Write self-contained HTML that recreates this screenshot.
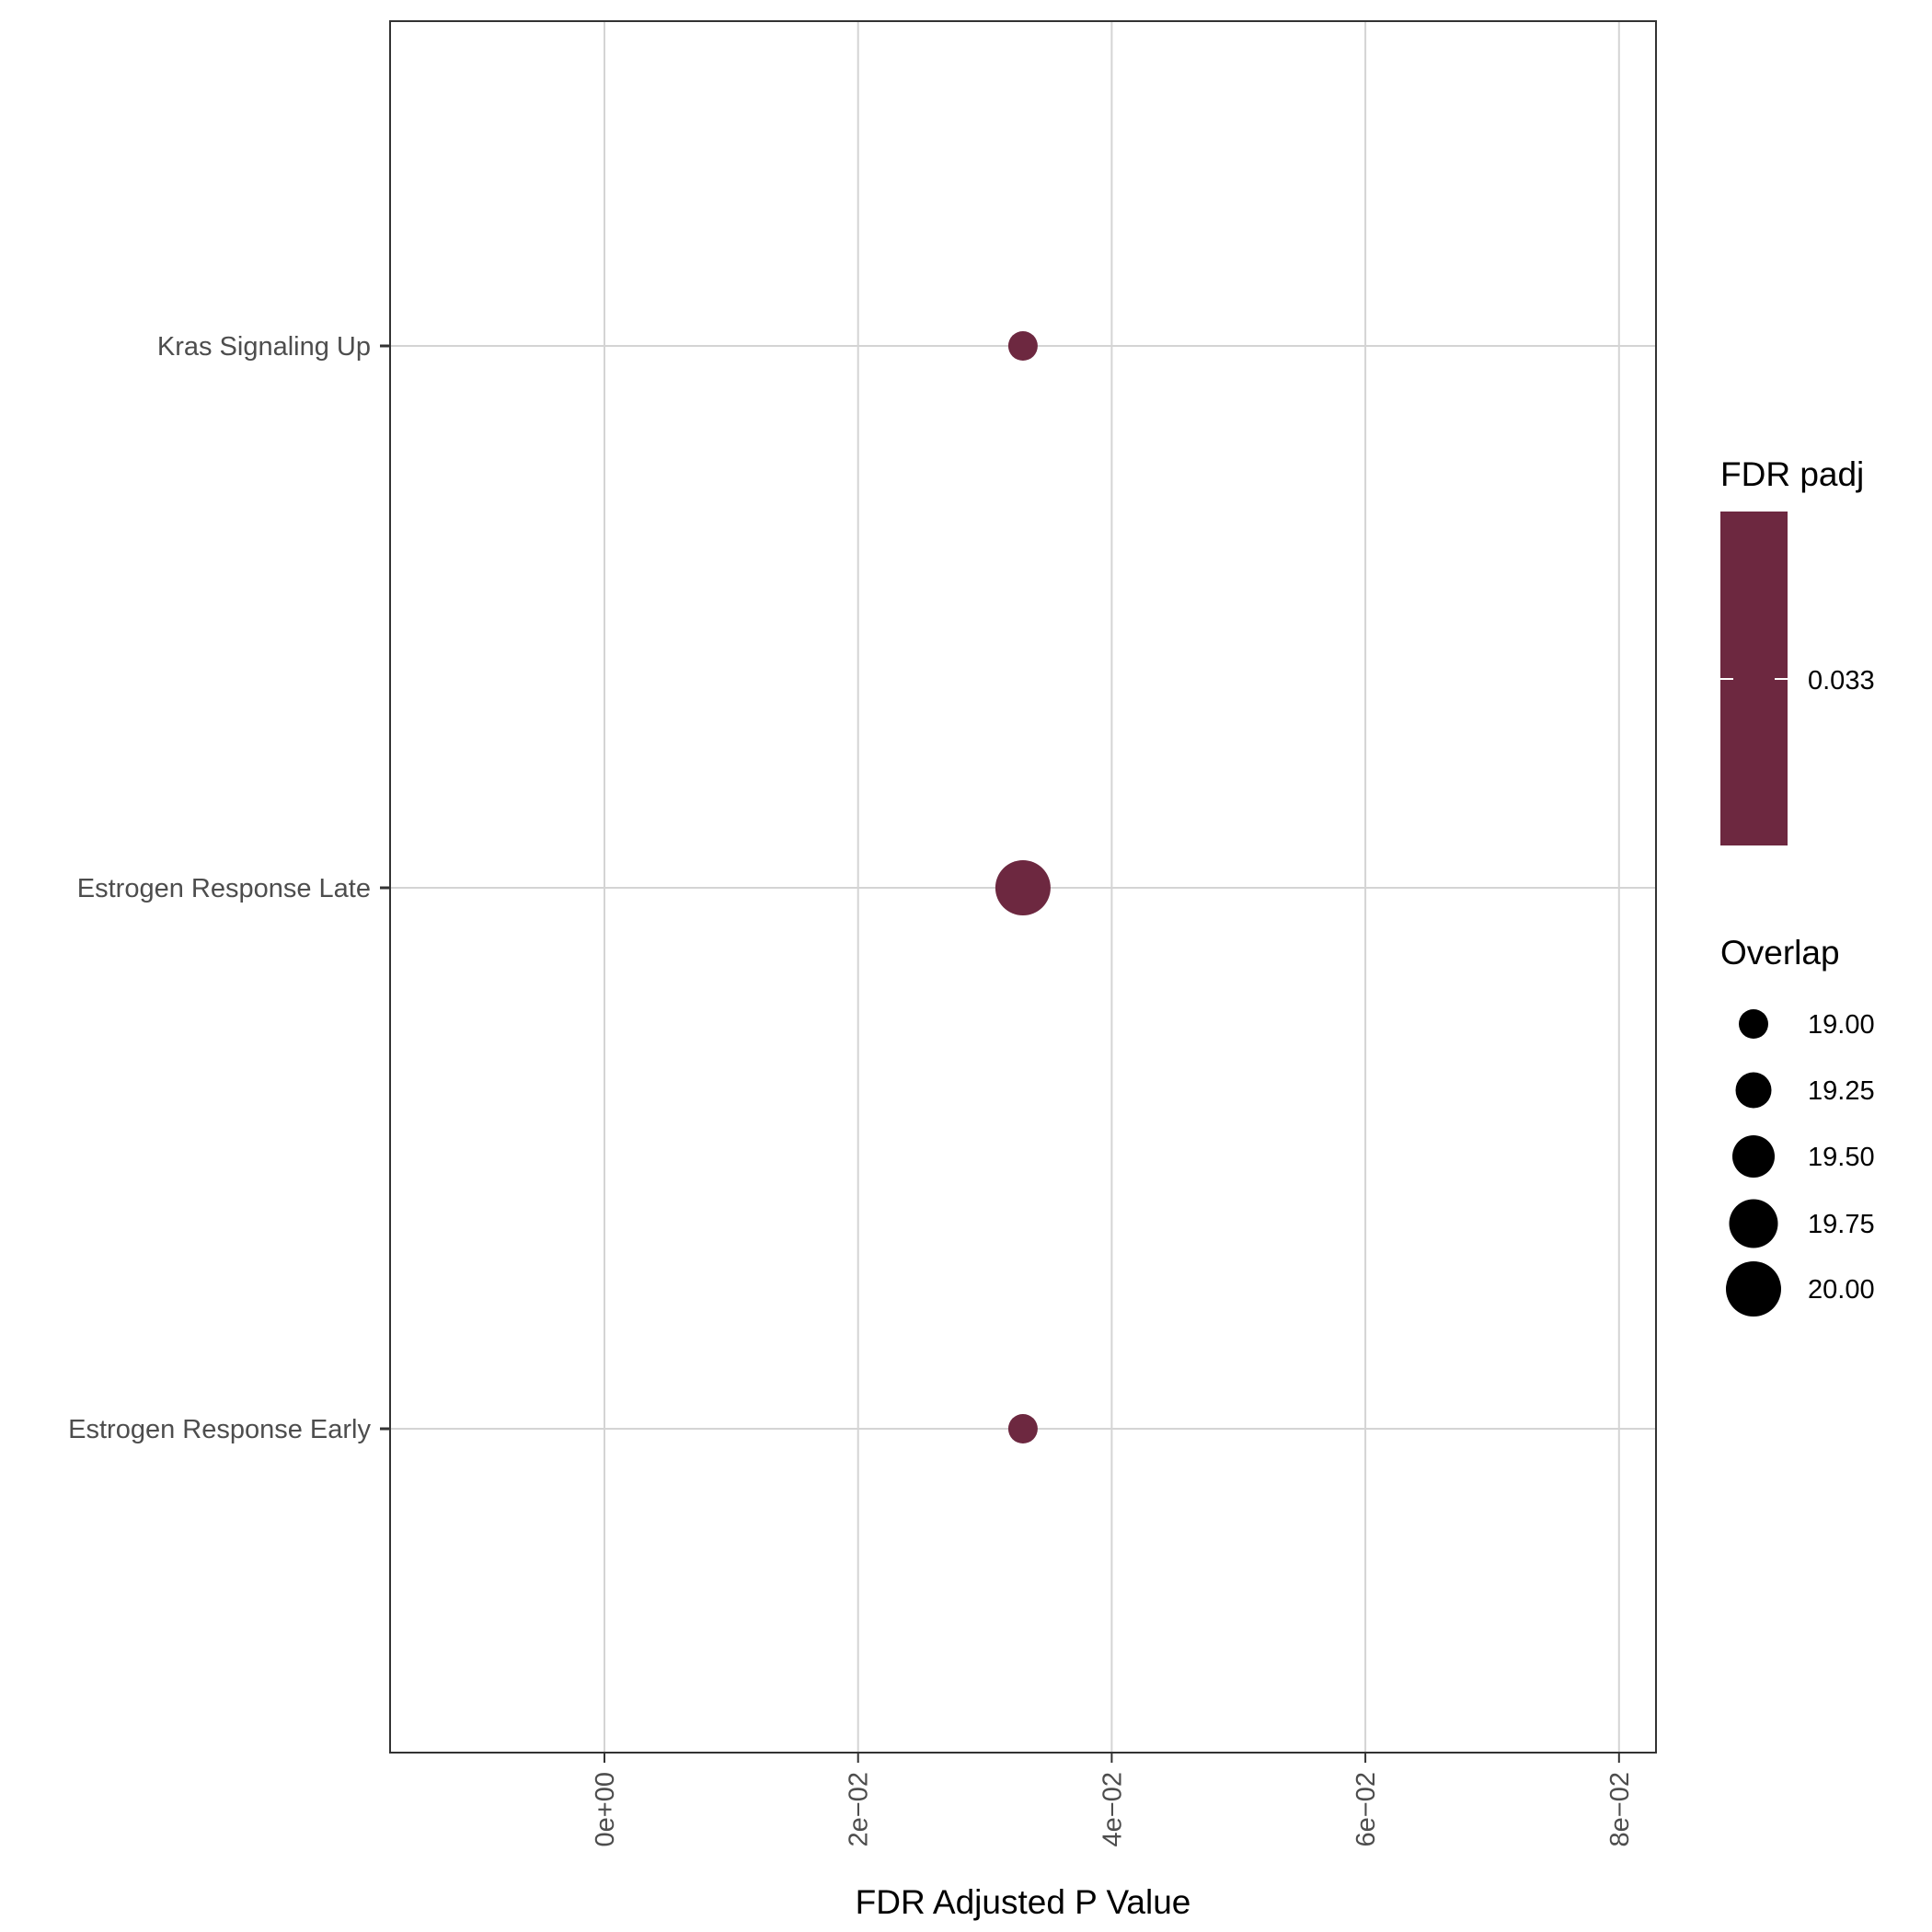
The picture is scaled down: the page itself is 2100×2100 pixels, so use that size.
<!DOCTYPE html>
<html><head><meta charset="utf-8"><style>
html,body{margin:0;padding:0;background:#fff}
svg{display:block;font-family:"Liberation Sans",sans-serif}
</style></head><body>
<svg id="chart" width="2100" height="2100" viewBox="0 0 2100 2100">
<g id="grid"></g>
<g id="points"></g>
<rect x="424" y="23" width="1376" height="1882" fill="none" stroke="#333" stroke-width="2"/>
<g id="xaxis"></g>
<g id="yaxis"></g>
<text x="1112" y="2080" font-size="37" text-anchor="middle" fill="#000">FDR Adjusted P Value</text>
<g>
<text x="1870" y="528" font-size="37" fill="#000">FDR padj</text>
<rect x="1870" y="556" width="73" height="363" fill="#6D2840"/>
<line x1="1870" y1="738" x2="1884" y2="738" stroke="#fff" stroke-width="2"/>
<line x1="1929" y1="738" x2="1943" y2="738" stroke="#fff" stroke-width="2"/>
<text x="1965" y="749" font-size="29" fill="#000">0.033</text>
</g>
<g id="sizelegend">
<text x="1870" y="1048" font-size="37" fill="#000">Overlap</text>
</g>
</svg>
<script>
const categories = ["Kras Signaling Up", "Estrogen Response Late", "Estrogen Response Early"];
const padjValues = [0.033, 0.033, 0.033];
const overlapValues = [19, 20, 19];
const xTicks = [0, 0.02, 0.04, 0.06, 0.08];
const xTickLabels = ["0e+00", "2e\u221202", "4e\u221202", "6e\u221202", "8e\u221202"];
const sizeBreaks = [19.00, 19.25, 19.50, 19.75, 20.00];
const sizeLabels = ["19.00", "19.25", "19.50", "19.75", "20.00"];

const NS = "http://www.w3.org/2000/svg";
const x = v => 657 + v * 13785;
const yPos = [376, 965, 1553];
const y = i => yPos[i];
const r = v => 16 + (v - 19) * 14;
function mk(tag, attrs, parent) {
  const el = document.createElementNS(NS, tag);
  for (const k in attrs) el.setAttribute(k, attrs[k]);
  parent.appendChild(el);
  return el;
}
const grid = document.getElementById("grid");
const xaxis = document.getElementById("xaxis");
const yaxis = document.getElementById("yaxis");
const pts = document.getElementById("points");
const sl = document.getElementById("sizelegend");

xTicks.forEach((t, i) => {
  const g = mk("line", {x1: x(t), x2: x(t), y1: 23, y2: 1905, stroke: "#d4d4d4", "stroke-width": 2}, grid);
  
  
  const tk = mk("line", {x1: x(t), x2: x(t), y1: 1905, y2: 1916, stroke: "#333", "stroke-width": 2}, xaxis);
  
  
  const tx = mk("text", {x: 0, y: 0, "font-size": 29, fill: "#4d4d4d", "text-anchor": "end",
    transform: `translate(${x(t) + 10},1926) rotate(-90)`}, xaxis);
  tx.textContent = xTickLabels[i];
  
  
});
categories.forEach((c, i) => {
  const g = mk("line", {x1: 424, x2: 1800, y1: y(i), y2: y(i), stroke: "#d4d4d4", "stroke-width": 2}, grid);
  
  
  const tk = mk("line", {x1: 413, x2: 424, y1: y(i), y2: y(i), stroke: "#333", "stroke-width": 3}, yaxis);
  
  
  const tx = mk("text", {x: 403, y: y(i) + 10, "font-size": 29, fill: "#4d4d4d", "text-anchor": "end"}, yaxis);
  tx.textContent = c;
  
  
  const p = mk("circle", {cx: x(padjValues[i]), cy: y(i), r: r(overlapValues[i]), fill: "#6D2840"}, pts);
  
  
});
const legY = [1113, 1185, 1257, 1330, 1401];
sizeBreaks.forEach((b, i) => {
  const c = mk("circle", {cx: 1906, cy: legY[i], r: r(b), fill: "#000"}, sl);
  
  
  const t = mk("text", {x: 1965, y: legY[i] + 10, "font-size": 29, fill: "#000"}, sl);
  t.textContent = sizeLabels[i];
  
  
});
</script>
</body></html>
